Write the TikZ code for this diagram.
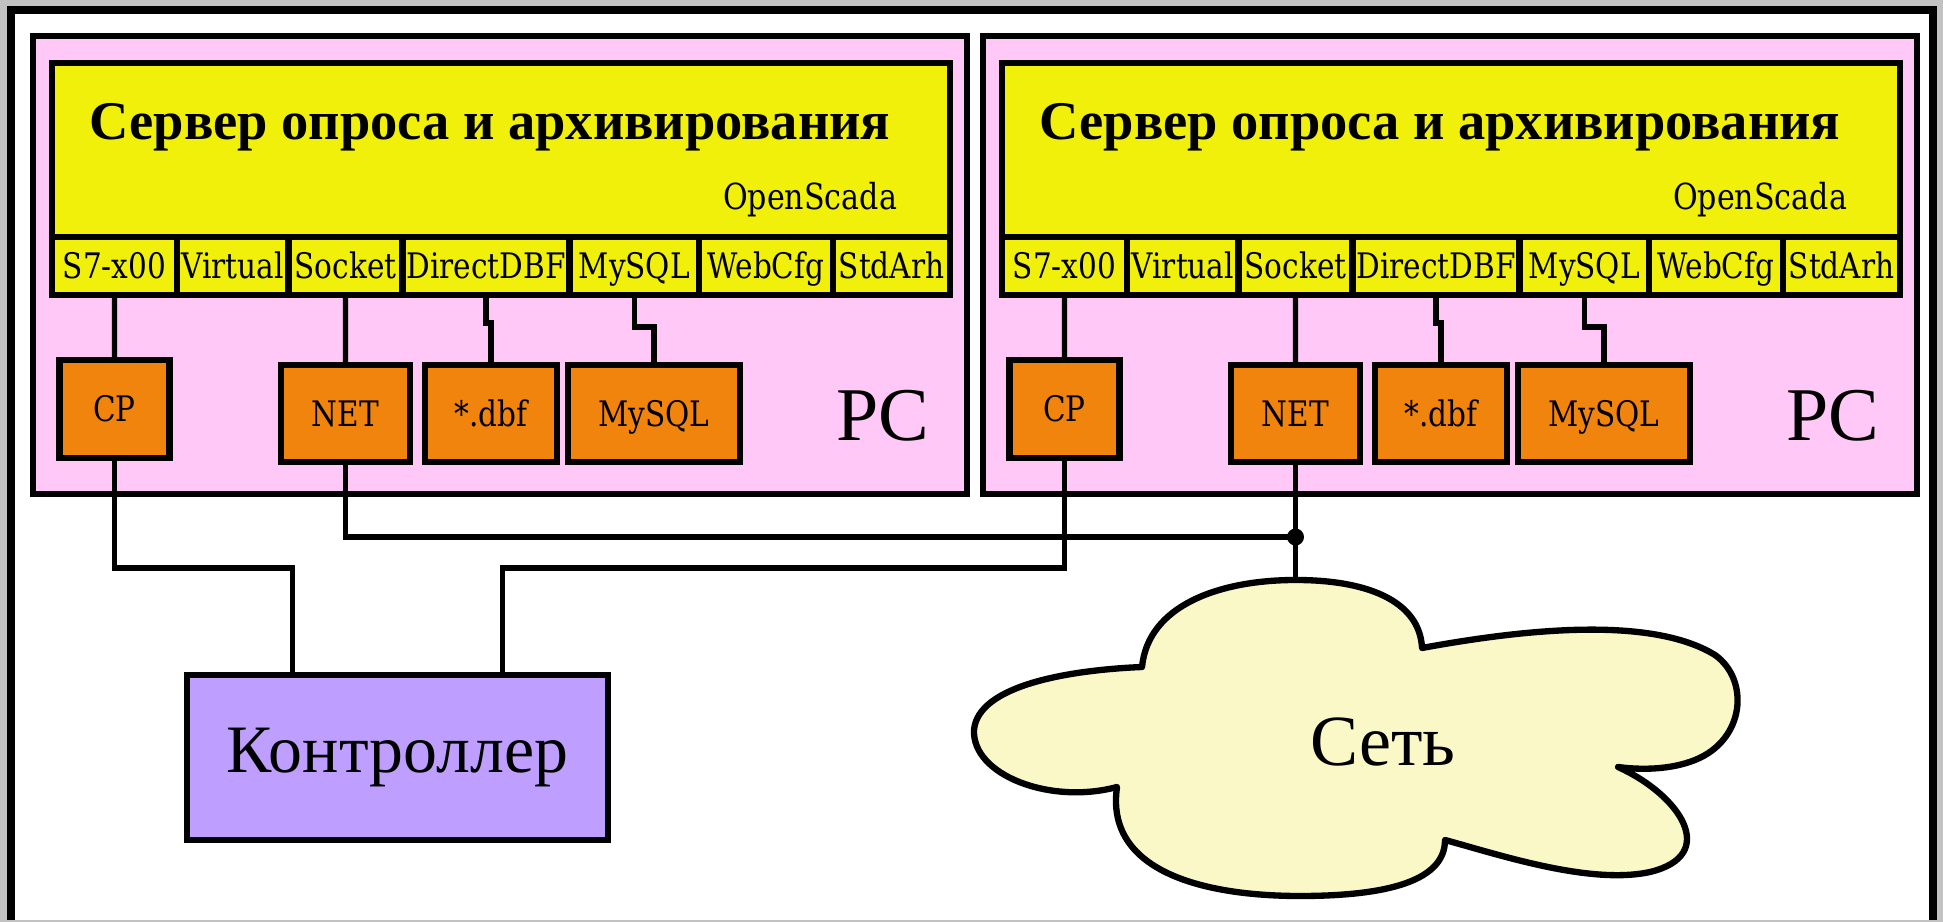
\documentclass[tikz,border=0pt]{standalone}
\usepackage{fontspec}
\setmainfont{Liberation Serif}
\newfontfamily\slabfont[FakeStretch=0.84]{DejaVu Serif}
\usepackage{tikz}
\usetikzlibrary{positioning}
\definecolor{framegray}{RGB}{194, 194, 194}
\definecolor{pcpink}{RGB}{255, 200, 246}
\definecolor{srvyellow}{RGB}{240, 240, 10}
\definecolor{devorange}{RGB}{240, 132, 12}
\definecolor{ctrlviolet}{RGB}{190, 158, 255}
\definecolor{cloudfill}{RGB}{250, 248, 198}

\begin{document}
\begin{tikzpicture}[
    outer sep=0pt,
    pc/.style={draw, line width=1.9pt, fill=pcpink, minimum width=9.34cm, minimum height=4.58cm},
    server/.style={draw, line width=1.9pt, fill=srvyellow, minimum width=8.98cm, minimum height=1.74cm},
    module/.style={draw, line width=1.8pt, fill=srvyellow, inner sep=0pt, minimum height=0.58cm, text height=7.3pt, text depth=0pt, font={\slabfont\fontsize{10pt}{12pt}\selectfont}},
    device/.style={draw, line width=1.9pt, fill=devorange, inner sep=0pt, minimum height=0.97cm, text height=7.3pt, text depth=0pt, font={\slabfont\fontsize{10pt}{12pt}\selectfont}},
    ctrlbox/.style={draw, line width=1.9pt, fill=ctrlviolet, minimum width=4.21cm, minimum height=1.65cm, font=\fontsize{19.3pt}{22pt}\selectfont},
    title/.style={anchor=base, inner sep=0pt, font=\bfseries\fontsize{15.5pt}{18pt}\selectfont},
    brand/.style={anchor=base east, inner sep=0pt, font={\slabfont\fontsize{10.2pt}{12pt}\selectfont}},
    bigtext/.style={font=\fontsize{21.6pt}{24pt}\selectfont},
    wire/.style={line width=1.5pt}
]
    \useasboundingbox (0,0) rectangle (19.43,-9.22);
    \fill[framegray] (0,0) rectangle (19.43,-9.22);
    \fill[white] (0.11,-0.10) rectangle (19.33,-9.20);
    \draw[line width=2.1pt] (0.11,-9.20) |- (19.33,-0.10) -- (19.33,-9.20);

    \node[pc] (pc1) at (5.00,-2.65) {};
    \node[pc] (pc2) at (14.50,-2.65) {};

    \node[server] (srv1) at (5.01,-1.50) {};
    \node[title] (title1) at (4.90,-1.40) {Сервер опроса и архивирования};
    \node[brand] (brand1) at (8.97,-2.10) {OpenScada};
    \node[module, minimum width=1.25cm, anchor=north west] (s71) at (srv1.south west) {S7-x00};
    \node[module, minimum width=1.115cm, right=0pt of s71] (virt1) {Virtual};
    \node[module, minimum width=1.14cm, right=0pt of virt1] (sock1) {Socket};
    \node[module, minimum width=1.67cm, right=0pt of sock1] (ddbf1) {DirectDBF};
    \node[module, minimum width=1.295cm, right=0pt of ddbf1] (mysql1) {MySQL};
    \node[module, minimum width=1.34cm, right=0pt of mysql1] (webcfg1) {WebCfg};
    \node[module, minimum width=1.17cm, right=0pt of webcfg1] (stdarh1) {StdArh};

    \node[device, minimum width=1.10cm, minimum height=0.98cm] (cp1) at (1.145,-4.09) {CP};
    \node[device, minimum width=1.29cm] (net1) at (3.455,-4.135) {NET};
    \node[device, minimum width=1.32cm] (dbf1) at (4.91,-4.135) {*.dbf};
    \node[device, minimum width=1.72cm] (db1) at (6.54,-4.135) {MySQL};
    \node[bigtext] (pclabel1) at (8.83,-4.16) {PC};

    \node[server] (srv2) at (14.51,-1.50) {};
    \node[title] (title2) at (14.40,-1.40) {Сервер опроса и архивирования};
    \node[brand] (brand2) at (18.47,-2.10) {OpenScada};
    \node[module, minimum width=1.25cm, anchor=north west] (s72) at (srv2.south west) {S7-x00};
    \node[module, minimum width=1.115cm, right=0pt of s72] (virt2) {Virtual};
    \node[module, minimum width=1.14cm, right=0pt of virt2] (sock2) {Socket};
    \node[module, minimum width=1.67cm, right=0pt of sock2] (ddbf2) {DirectDBF};
    \node[module, minimum width=1.295cm, right=0pt of ddbf2] (mysql2) {MySQL};
    \node[module, minimum width=1.34cm, right=0pt of mysql2] (webcfg2) {WebCfg};
    \node[module, minimum width=1.17cm, right=0pt of webcfg2] (stdarh2) {StdArh};

    \node[device, minimum width=1.10cm, minimum height=0.98cm] (cp2) at (10.645,-4.09) {CP};
    \node[device, minimum width=1.29cm] (net2) at (12.955,-4.135) {NET};
    \node[device, minimum width=1.32cm] (dbf2) at (14.41,-4.135) {*.dbf};
    \node[device, minimum width=1.72cm] (db2) at (16.04,-4.135) {MySQL};
    \node[bigtext] (pclabel2) at (18.33,-4.16) {PC};

    \node[ctrlbox] (ctrl) at (3.975,-7.575) {Контроллер};

    \filldraw[line width=1.8pt, fill=cloudfill, line join=round] (11.42,-6.67)
        .. controls (11.48,-6.05) and (12.20,-5.80) .. (12.955,-5.80)
        .. controls (13.75,-5.80) and (14.20,-6.05) .. (14.22,-6.48)
        .. controls (15.20,-6.30) and (16.50,-6.15) .. (17.15,-6.55)
        .. controls (17.50,-6.80) and (17.45,-7.40) .. (16.95,-7.60)
        .. controls (16.70,-7.70) and (16.40,-7.70) .. (16.18,-7.67)
        .. controls (16.80,-7.95) and (17.20,-8.55) .. (16.50,-8.72)
        .. controls (15.90,-8.85) and (15.00,-8.55) .. (14.45,-8.40)
        .. controls (14.45,-8.80) and (13.90,-8.96) .. (13.00,-8.96)
        .. controls (12.00,-8.96) and (11.05,-8.70) .. (11.17,-7.87)
        .. controls (10.50,-8.05) and (9.72,-7.75) .. (9.74,-7.30)
        .. controls (9.78,-6.85) and (10.70,-6.70) .. (11.42,-6.67)
        -- cycle;
    \node[font=\fontsize{20.5pt}{23pt}\selectfont] (lan) at (13.83,-7.42) {Сеть};
    \coordinate (cloudtop) at (12.955,-5.80);
    \coordinate (joint) at (12.955,-5.37);

    \draw[wire] (s71) -- (cp1);
    \draw[wire] (sock1) -- (net1);
    \draw[wire] (ddbf1.south) -- ++(0,-0.28) -| (dbf1.north);
    \draw[wire] (mysql1.south) -- ++(0,-0.32) -| (db1.north);
    \draw[wire] (s72) -- (cp2);
    \draw[wire] (sock2) -- (net2);
    \draw[wire] (ddbf2.south) -- ++(0,-0.28) -| (dbf2.north);
    \draw[wire] (mysql2.south) -- ++(0,-0.32) -| (db2.north);

    \draw[wire] (cp1.south) -- ++(0,-1.10) -| ([xshift=-1.05cm]ctrl.north);
    \draw[wire] (cp2.south) -- ++(0,-1.10) -| ([xshift=1.05cm]ctrl.north);
    \draw[wire] (net1.south) |- (joint);
    \draw[wire] (net2.south) -- (cloudtop);
    \fill (joint) circle (0.085);
\end{tikzpicture}
\end{document}
